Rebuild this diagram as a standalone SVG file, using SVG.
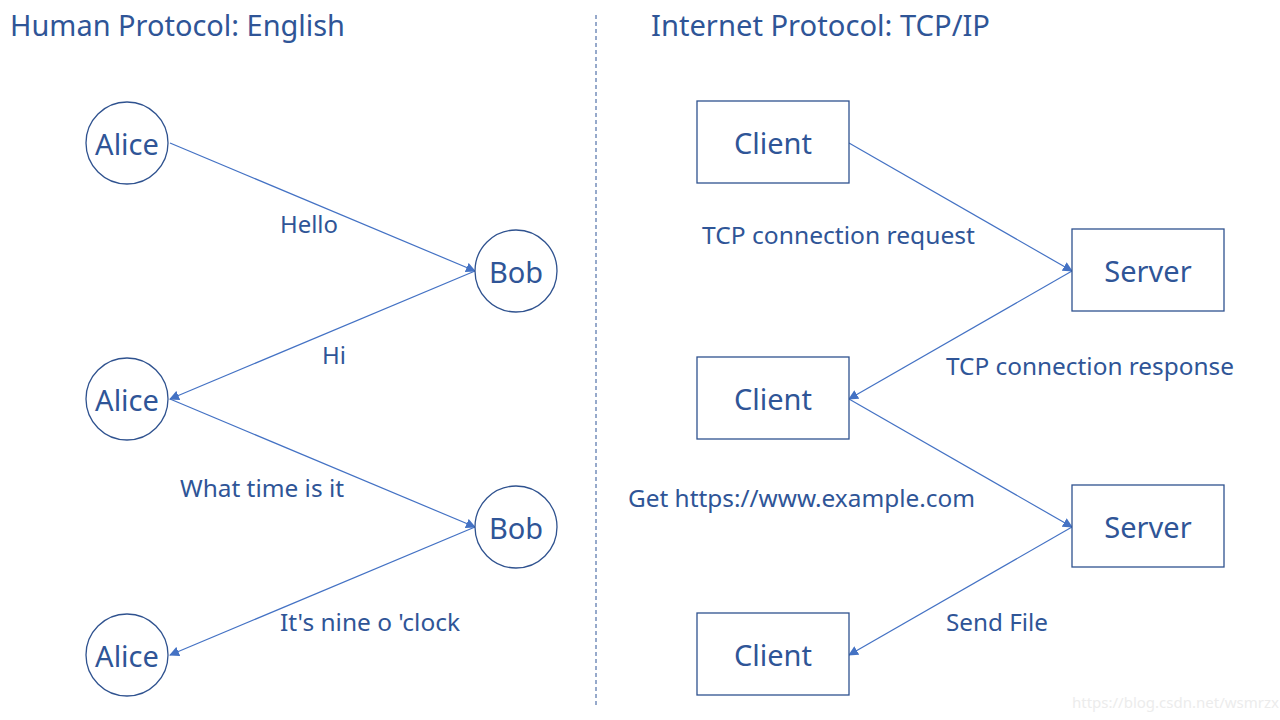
<svg xmlns="http://www.w3.org/2000/svg" width="1280" height="720" viewBox="0 0 1280 720">
<defs>
<style>
text{font-family:"Noto Sans","Liberation Sans",sans-serif;fill:#2F5597}
.title{font-size:29.5px}
.node{font-size:29px;text-anchor:middle;dominant-baseline:central}
.lbl{font-size:23.5px}
.c{fill:#fff;stroke:#2F528F;stroke-width:1.3}
.e{stroke:#4472C4;stroke-width:1.2;fill:none;marker-end:url(#ah)}
.wm{font-size:15px;fill:#ececec}
</style>
<marker id="ah" viewBox="0 0 10 10" refX="9" refY="5" markerWidth="10" markerHeight="10" markerUnits="userSpaceOnUse" orient="auto">
<path d="M0,0 L10,5 L0,10 z" fill="#4472C4"/>
</marker>
</defs>
<rect width="1280" height="720" fill="#fff"/>
<text class="title" x="10" y="36" textLength="335" lengthAdjust="spacingAndGlyphs">Human Protocol: English</text>
<text class="title" x="651" y="36" textLength="339" lengthAdjust="spacingAndGlyphs">Internet Protocol: TCP/IP</text>
<line x1="596" y1="15" x2="596" y2="705" stroke="#2F5597" stroke-width="1" stroke-dasharray="4,3"/>
<g id="connectors">
<line class="e" x1="170" y1="143" x2="475" y2="271"/>
<line class="e" x1="475" y1="271" x2="170" y2="399"/>
<line class="e" x1="170" y1="399" x2="475" y2="527"/>
<line class="e" x1="475" y1="527" x2="170" y2="655"/>
<line class="e" x1="849" y1="143" x2="1072" y2="271"/>
<line class="e" x1="1072" y1="271" x2="849" y2="399"/>
<line class="e" x1="849" y1="399" x2="1072" y2="527"/>
<line class="e" x1="1072" y1="527" x2="849" y2="655"/>
</g>
<g id="labels">
<text class="lbl" x="280" y="233" textLength="58" lengthAdjust="spacingAndGlyphs">Hello</text>
<text class="lbl" x="322" y="364" textLength="24" lengthAdjust="spacingAndGlyphs">Hi</text>
<text class="lbl" x="180" y="497" textLength="164" lengthAdjust="spacingAndGlyphs">What time is it</text>
<text class="lbl" x="280" y="631" textLength="180" lengthAdjust="spacingAndGlyphs">It's nine o 'clock</text>
<text class="lbl" x="702" y="244" textLength="273" lengthAdjust="spacingAndGlyphs">TCP connection request</text>
<text class="lbl" x="946" y="375" textLength="288" lengthAdjust="spacingAndGlyphs">TCP connection response</text>
<text class="lbl" x="628" y="507" textLength="347" lengthAdjust="spacingAndGlyphs">Get https://www.example.com</text>
<text class="lbl" x="946" y="631" textLength="102" lengthAdjust="spacingAndGlyphs">Send File</text>
</g>
<g id="alice1"><circle class="c" cx="127" cy="143" r="41"/><text class="node" x="127" y="143">Alice</text></g>
<g id="bob1"><circle class="c" cx="516" cy="271" r="41"/><text class="node" x="516" y="271">Bob</text></g>
<g id="alice2"><circle class="c" cx="127" cy="399" r="41"/><text class="node" x="127" y="399">Alice</text></g>
<g id="bob2"><circle class="c" cx="516" cy="527" r="41"/><text class="node" x="516" y="527">Bob</text></g>
<g id="alice3"><circle class="c" cx="127" cy="655" r="41"/><text class="node" x="127" y="655">Alice</text></g>
<g id="client1"><rect class="c" x="697" y="101" width="152" height="82"/><text class="node" x="773" y="142">Client</text></g>
<g id="server1"><rect class="c" x="1072" y="229" width="152" height="82"/><text class="node" x="1148" y="270">Server</text></g>
<g id="client2"><rect class="c" x="697" y="357" width="152" height="82"/><text class="node" x="773" y="398">Client</text></g>
<g id="server2"><rect class="c" x="1072" y="485" width="152" height="82"/><text class="node" x="1148" y="526">Server</text></g>
<g id="client3"><rect class="c" x="697" y="613" width="152" height="82"/><text class="node" x="773" y="654">Client</text></g>
<text class="wm" x="1072" y="708">https://blog.csdn.net/wsmrzx</text>
</svg>
